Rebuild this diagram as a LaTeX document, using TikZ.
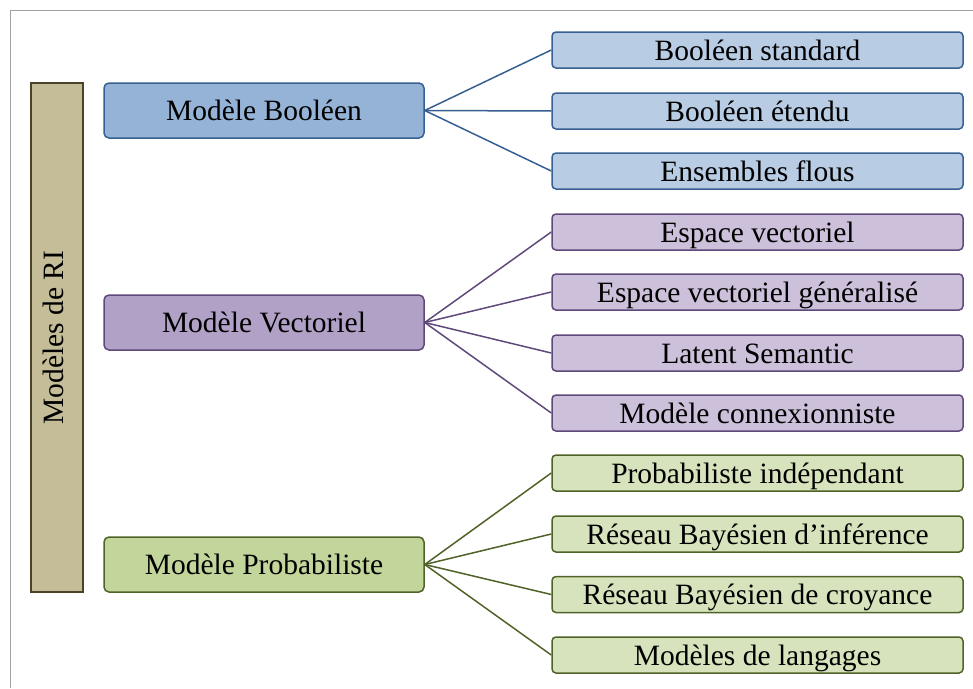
\documentclass[tikz,border=0pt]{standalone}
\usepackage{fontspec}
\setmainfont{Liberation Serif}
\definecolor{bluefill}{HTML}{95B3D7}
\definecolor{bluelite}{HTML}{B8CCE4}
\definecolor{blueline}{HTML}{366092}
\definecolor{purpfill}{HTML}{B2A1C7}
\definecolor{purplite}{HTML}{CCC0DA}
\definecolor{purpline}{HTML}{5F497A}
\definecolor{greenfill}{HTML}{C2D69B}
\definecolor{greenlite}{HTML}{D7E3BC}
\definecolor{greenline}{HTML}{4F6228}
\definecolor{tanfill}{HTML}{C4BD97}
\definecolor{tanline}{HTML}{494429}
\definecolor{framegray}{HTML}{A0A0A0}
\begin{document}
\begin{tikzpicture}[x=1pt,y=-1pt,
  every node/.style={font=\fontsize{29.5}{33}\selectfont, inner sep=0pt, line width=1.5pt,
    text height=26.5pt, text depth=6.5pt},
  parentbox/.style={draw, rounded corners=5pt, minimum width=320pt, minimum height=55pt},
  childbox/.style={draw, rounded corners=4pt, minimum width=411pt, minimum height=36pt},
  link/.style={line width=1.5pt}]
\useasboundingbox (0,0) rectangle (973,688);
\draw[framegray, line width=1pt] (10,688) -- (10,10) -- (973,10);
% left bar
\node[draw=tanline, fill=tanfill, minimum width=52pt, minimum height=509pt] (ri) at (57,337.5) {};
\node[rotate=90, text height=20pt, text depth=8pt] (rilabel) at (57,337.5) {Modèles de RI};
% parents
\node[parentbox, draw=blueline, fill=bluefill] (pb) at (264,110.5) {Modèle Booléen};
\node[parentbox, draw=purpline, fill=purpfill] (pv) at (264,322.5) {Modèle Vectoriel};
\node[parentbox, draw=greenline, fill=greenfill] (pp) at (264,564.5) {Modèle Probabiliste};
% Boolean children
\node[childbox, draw=blueline, fill=bluelite] (b1) at (757.5,50) {Booléen standard};
\node[childbox, draw=blueline, fill=bluelite] (b2) at (757.5,111) {Booléen étendu};
\node[childbox, draw=blueline, fill=bluelite] (b3) at (757.5,171) {Ensembles flous};
% Vector children
\node[childbox, draw=purpline, fill=purplite] (v1) at (757.5,232) {Espace vectoriel};
\node[childbox, draw=purpline, fill=purplite] (v2) at (757.5,292) {Espace vectoriel généralisé};
\node[childbox, draw=purpline, fill=purplite] (v3) at (757.5,353) {Latent Semantic};
\node[childbox, draw=purpline, fill=purplite] (v4) at (757.5,413) {Modèle connexionniste};
% Probabilistic children
\node[childbox, draw=greenline, fill=greenlite] (g1) at (757.5,473) {Probabiliste indépendant};
\node[childbox, draw=greenline, fill=greenlite] (g2) at (757.5,534) {Réseau Bayésien d’inférence};
\node[childbox, draw=greenline, fill=greenlite] (g3) at (757.5,594.5) {Réseau Bayésien de croyance};
\node[childbox, draw=greenline, fill=greenlite] (g4) at (757.5,655) {Modèles de langages};
% links
\foreach \c in {b1,b2,b3} \draw[link, blueline] (pb.east) -- (\c.west);
\foreach \c in {v1,v2,v3,v4} \draw[link, purpline] (pv.east) -- (\c.west);
\foreach \c in {g1,g2,g3,g4} \draw[link, greenline] (pp.east) -- (\c.west);
\end{tikzpicture}
\end{document}
